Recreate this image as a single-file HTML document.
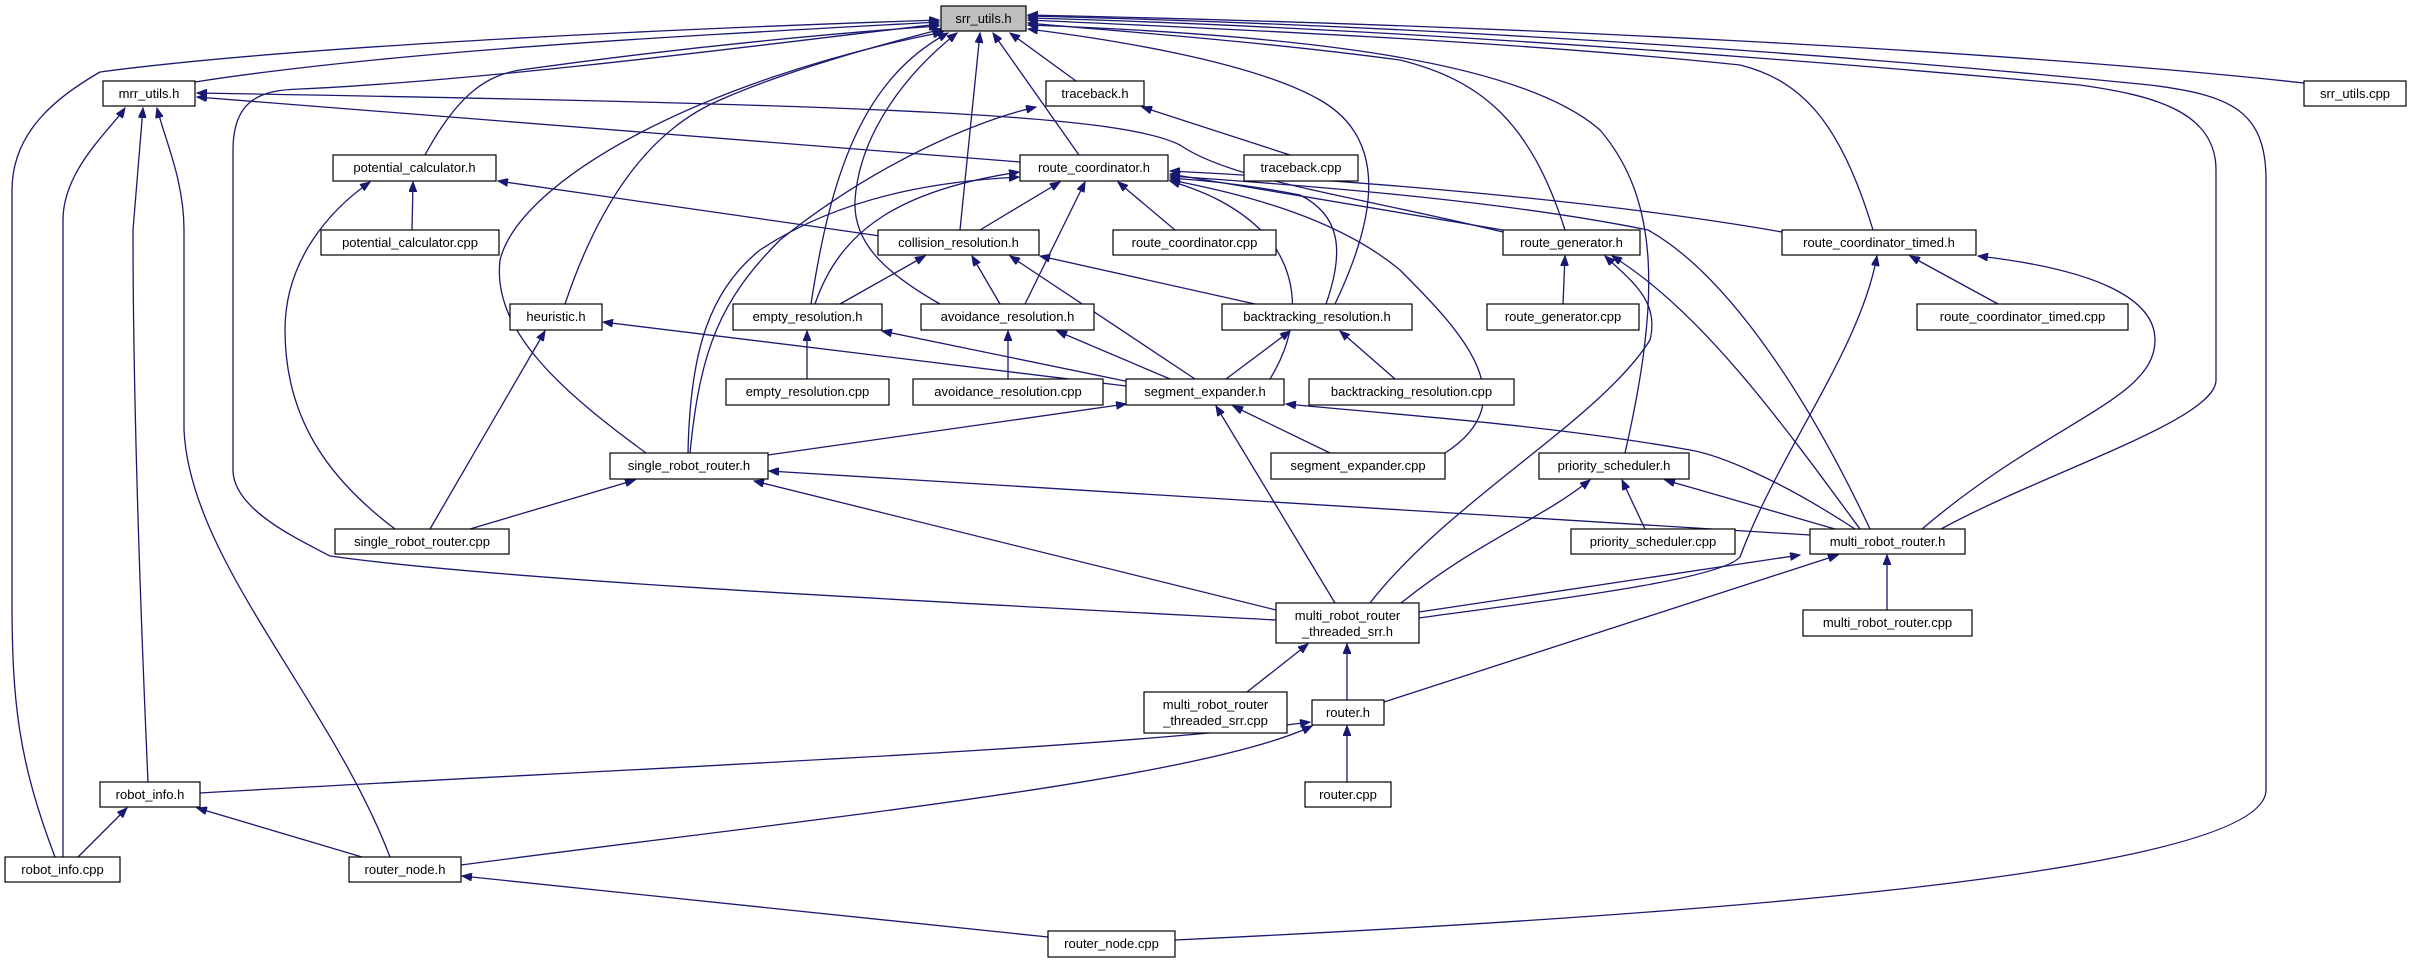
<!DOCTYPE html>
<html><head><meta charset="utf-8"><style>
html,body{margin:0;padding:0;background:#fff}
svg{display:block}
text{font-family:"Liberation Sans",sans-serif;font-size:13px;fill:#000}
.e{fill:none;stroke:#191970;stroke-width:1.3}
.n{fill:#fff;stroke:#000;stroke-width:1.2}
</style></head><body>
<svg width="2411" height="963" viewBox="0 0 2411 963" xmlns="http://www.w3.org/2000/svg">
<defs><marker id="a" markerWidth="11" markerHeight="8" refX="10" refY="4" orient="auto" markerUnits="userSpaceOnUse"><path d="M0,0 L10,4 L0,8 z" fill="#191970" stroke="#191970"/></marker></defs>
<g class="e" marker-end="url(#a)">
<path d="M55,857 C18,760 12,700 12,600 L12,190 C12,130 60,95 100,72 C300,45 700,28 939,20"/>
<path d="M195,82 C400,50 700,35 939,22"/>
<path d="M1276,620 C900,600 500,580 330,556 C300,540 233,510 233,470 L233,150 C233,100 260,90 300,89 C500,80 800,40 939,24"/>
<path d="M425,155 C460,90 490,75 520,70 C700,45 850,32 939,26"/>
<path d="M565,304 C600,200 650,130 720,100 C800,65 900,40 942,29"/>
<path d="M646,453 C560,390 492,330 500,260 C520,180 700,80 943,32"/>
<path d="M811,304 C830,180 860,80 948,33"/>
<path d="M940,304 C880,270 853,240 855,200 C860,130 910,70 957,33"/>
<path d="M960,230 L980,33"/>
<path d="M1079,155 L993,33"/>
<path d="M1076,81 L1010,33"/>
<path d="M1335,304 C1375,220 1390,140 1320,100 C1250,60 1100,38 1028,29"/>
<path d="M1326,304 C1345,250 1340,215 1300,195 C1250,185 1200,180 1170,178"/>
<path d="M1565,230 C1530,120 1480,80 1400,60 C1250,40 1100,30 1028,23"/>
<path d="M1625,453 C1660,300 1660,200 1600,130 C1520,60 1300,35 1028,25"/>
<path d="M1873,230 C1840,120 1800,80 1740,65 C1500,40 1200,28 1028,20"/>
<path d="M1941,529 C2050,470 2216,420 2216,380 L2216,170 C2216,110 2150,95 2080,85 C1700,50 1300,25 1028,18"/>
<path d="M1922,529 C2050,420 2155,400 2155,340 C2155,300 2100,270 1978,256"/>
<path d="M1175,940 C1600,920 2266,880 2266,790 L2266,180 C2266,110 2230,95 2150,85 C1800,50 1400,25 1028,16"/>
<path d="M2304,83 C2000,50 1500,25 1028,15"/>
<path d="M63,857 L63,220 C63,170 110,130 125,108"/>
<path d="M148,782 C140,600 133,400 133,230 L143,108"/>
<path d="M390,857 C330,700 190,560 184,430 L184,230 C184,180 165,140 157,108"/>
<path d="M1020,162 L197,97"/>
<path d="M1503,232 C1350,195 1230,180 1180,145 C1120,115 900,105 197,93"/>
<path d="M1290,155 L1142,107"/>
<path d="M690,453 C700,350 720,300 780,240 C880,160 980,120 1036,107"/>
<path d="M688,453 C690,350 710,290 760,250 C850,190 960,180 1019,177"/>
<path d="M412,230 L413,182"/>
<path d="M395,529 C330,480 285,420 285,330 C285,260 330,210 370,182"/>
<path d="M880,236 L498,181"/>
<path d="M980,230 L1060,182"/>
<path d="M1025,304 L1085,182"/>
<path d="M1175,230 L1118,182"/>
<path d="M815,304 C840,230 900,190 1019,172"/>
<path d="M1270,379 C1300,330 1300,280 1270,240 C1240,205 1200,190 1170,181"/>
<path d="M1445,453 C1528,400 1460,330 1400,270 C1340,220 1250,195 1170,180"/>
<path d="M1503,230 L1170,174"/>
<path d="M1782,232 C1600,200 1350,180 1170,171"/>
<path d="M1870,529 C1800,380 1720,270 1648,230 C1500,200 1300,185 1170,176"/>
<path d="M840,304 L925,256"/>
<path d="M1000,304 L972,256"/>
<path d="M1195,379 L1010,256"/>
<path d="M1255,304 L1040,256"/>
<path d="M1563,304 L1565,256"/>
<path d="M1370,603 C1450,500 1600,420 1650,340 C1660,300 1630,280 1605,256"/>
<path d="M1860,529 C1780,420 1700,310 1612,256"/>
<path d="M1998,304 L1910,256"/>
<path d="M1419,618 C1550,600 1720,580 1740,557 C1780,450 1860,350 1877,256"/>
<path d="M1226,379 L1290,331"/>
<path d="M1395,379 L1340,331"/>
<path d="M1126,386 L603,322"/>
<path d="M430,529 L545,331"/>
<path d="M807,379 L807,331"/>
<path d="M1130,382 L882,331"/>
<path d="M1008,379 L1008,331"/>
<path d="M1170,379 L1057,331"/>
<path d="M768,455 L1126,404"/>
<path d="M1330,453 L1233,406"/>
<path d="M1335,603 L1216,406"/>
<path d="M1855,529 C1780,480 1720,455 1690,450 C1550,425 1400,415 1286,404"/>
<path d="M470,529 L635,480"/>
<path d="M1276,610 L754,481"/>
<path d="M1810,535 L769,471"/>
<path d="M1645,529 L1622,480"/>
<path d="M1835,529 L1665,480"/>
<path d="M1401,603 C1480,540 1540,520 1590,480"/>
<path d="M1887,610 L1887,555"/>
<path d="M1419,612 L1800,555"/>
<path d="M1384,702 L1838,555"/>
<path d="M1247,692 L1308,644"/>
<path d="M1347,700 L1347,644"/>
<path d="M1347,782 L1347,726"/>
<path d="M200,793 C600,770 1100,750 1310,722"/>
<path d="M461,865 C800,820 1200,780 1312,726"/>
<path d="M78,857 L127,808"/>
<path d="M362,857 L197,808"/>
<path d="M1048,937 L462,876"/>
</g>
<g>
<rect class="n" x="941" y="6" width="85" height="25" style="fill:#bfbfbf"/><text x="983.5" y="23" text-anchor="middle">srr_utils.h</text>
<rect class="n" x="103" y="81" width="92" height="25"/><text x="149" y="98" text-anchor="middle">mrr_utils.h</text>
<rect class="n" x="1046" y="81" width="98" height="25"/><text x="1095" y="98" text-anchor="middle">traceback.h</text>
<rect class="n" x="2304" y="81" width="102" height="25"/><text x="2355" y="98" text-anchor="middle">srr_utils.cpp</text>
<rect class="n" x="333" y="155" width="163" height="26"/><text x="414.5" y="172" text-anchor="middle">potential_calculator.h</text>
<rect class="n" x="1020" y="155" width="148" height="26"/><text x="1094" y="172" text-anchor="middle">route_coordinator.h</text>
<rect class="n" x="1244" y="155" width="114" height="26"/><text x="1301" y="172" text-anchor="middle">traceback.cpp</text>
<rect class="n" x="321" y="230" width="178" height="25"/><text x="410" y="247" text-anchor="middle">potential_calculator.cpp</text>
<rect class="n" x="878" y="230" width="161" height="25"/><text x="958.5" y="247" text-anchor="middle">collision_resolution.h</text>
<rect class="n" x="1113" y="230" width="163" height="25"/><text x="1194.5" y="247" text-anchor="middle">route_coordinator.cpp</text>
<rect class="n" x="1503" y="230" width="137" height="25"/><text x="1571.5" y="247" text-anchor="middle">route_generator.h</text>
<rect class="n" x="1782" y="230" width="194" height="25"/><text x="1879" y="247" text-anchor="middle">route_coordinator_timed.h</text>
<rect class="n" x="510" y="304" width="92" height="26"/><text x="556" y="321" text-anchor="middle">heuristic.h</text>
<rect class="n" x="733" y="304" width="149" height="26"/><text x="807.5" y="321" text-anchor="middle">empty_resolution.h</text>
<rect class="n" x="921" y="304" width="173" height="26"/><text x="1007.5" y="321" text-anchor="middle">avoidance_resolution.h</text>
<rect class="n" x="1222" y="304" width="190" height="26"/><text x="1317" y="321" text-anchor="middle">backtracking_resolution.h</text>
<rect class="n" x="1487" y="304" width="152" height="26"/><text x="1563" y="321" text-anchor="middle">route_generator.cpp</text>
<rect class="n" x="1917" y="304" width="211" height="26"/><text x="2022.5" y="321" text-anchor="middle">route_coordinator_timed.cpp</text>
<rect class="n" x="726" y="379" width="163" height="26"/><text x="807.5" y="396" text-anchor="middle">empty_resolution.cpp</text>
<rect class="n" x="913" y="379" width="190" height="26"/><text x="1008" y="396" text-anchor="middle">avoidance_resolution.cpp</text>
<rect class="n" x="1126" y="379" width="158" height="26"/><text x="1205" y="396" text-anchor="middle">segment_expander.h</text>
<rect class="n" x="1309" y="379" width="205" height="26"/><text x="1411.5" y="396" text-anchor="middle">backtracking_resolution.cpp</text>
<rect class="n" x="610" y="453" width="158" height="26"/><text x="689" y="470" text-anchor="middle">single_robot_router.h</text>
<rect class="n" x="1271" y="453" width="174" height="26"/><text x="1358" y="470" text-anchor="middle">segment_expander.cpp</text>
<rect class="n" x="1539" y="453" width="150" height="26"/><text x="1614" y="470" text-anchor="middle">priority_scheduler.h</text>
<rect class="n" x="335" y="529" width="174" height="25"/><text x="422" y="546" text-anchor="middle">single_robot_router.cpp</text>
<rect class="n" x="1571" y="529" width="164" height="25"/><text x="1653" y="546" text-anchor="middle">priority_scheduler.cpp</text>
<rect class="n" x="1810" y="529" width="155" height="25"/><text x="1887.5" y="546" text-anchor="middle">multi_robot_router.h</text>
<rect class="n" x="1276" y="603" width="143" height="40"/><text x="1347.5" y="620" text-anchor="middle">multi_robot_router</text><text x="1347.5" y="636" text-anchor="middle">_threaded_srr.h</text>
<rect class="n" x="1803" y="610" width="169" height="26"/><text x="1887.5" y="627" text-anchor="middle">multi_robot_router.cpp</text>
<rect class="n" x="1144" y="692" width="143" height="41"/><text x="1215.5" y="709" text-anchor="middle">multi_robot_router</text><text x="1215.5" y="725" text-anchor="middle">_threaded_srr.cpp</text>
<rect class="n" x="1312" y="700" width="72" height="25"/><text x="1348" y="717" text-anchor="middle">router.h</text>
<rect class="n" x="100" y="782" width="100" height="25"/><text x="150" y="799" text-anchor="middle">robot_info.h</text>
<rect class="n" x="1305" y="782" width="86" height="25"/><text x="1348" y="799" text-anchor="middle">router.cpp</text>
<rect class="n" x="5" y="857" width="115" height="25"/><text x="62.5" y="874" text-anchor="middle">robot_info.cpp</text>
<rect class="n" x="349" y="857" width="112" height="25"/><text x="405" y="874" text-anchor="middle">router_node.h</text>
<rect class="n" x="1048" y="931" width="127" height="26"/><text x="1111.5" y="948" text-anchor="middle">router_node.cpp</text>
</g>
</svg>
</body></html>
